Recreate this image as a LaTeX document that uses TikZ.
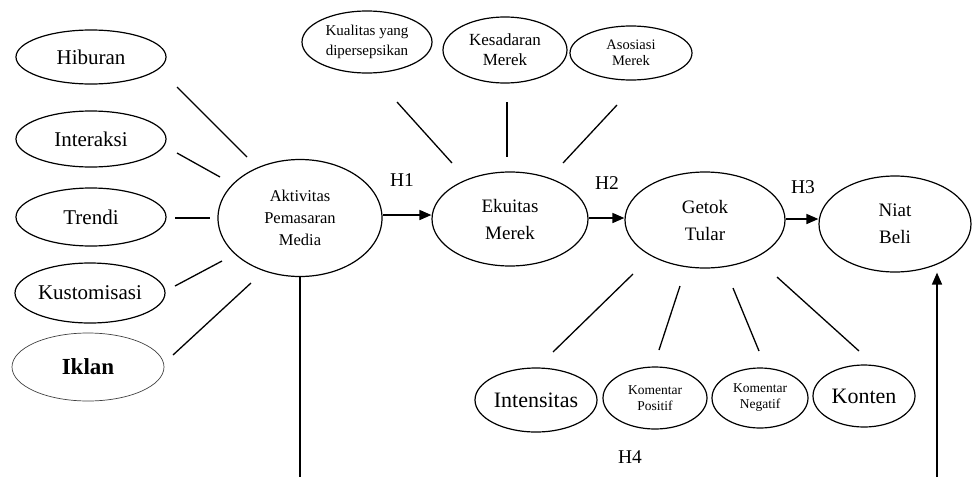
\documentclass[tikz,border=0pt]{standalone}
\usepackage{fontspec}
\setmainfont{Liberation Serif}
\usetikzlibrary{arrows.meta,shapes.geometric,calc}
\begin{document}
\begin{tikzpicture}[x=1pt,y=-1pt,
  ov/.style={draw, ellipse, inner sep=0pt, align=center, line width=1.2pt},
  ln/.style={line width=1.3pt},
  arr/.style={line width=1.6pt, -{Triangle[length=12pt,width=10pt]}},
  fbig/.style={font=\fontsize{21}{24}\selectfont},
  fbot/.style={font=\fontsize{22}{24}\selectfont},
  fmid/.style={font=\fontsize{19}{27}\selectfont},
  fakt/.style={font=\fontsize{16.5}{22}\selectfont},
  fkua/.style={font=\fontsize{15}{19.5}\selectfont},
  fkes/.style={font=\fontsize{17}{20}\selectfont},
  fsm/.style={font=\fontsize{14.5}{16}\selectfont},
  ftiny/.style={font=\fontsize{13.5}{16}\selectfont},
  hlab/.style={font=\fontsize{19.5}{22}\selectfont}]
\useasboundingbox (0,0) rectangle (972,477);

% left dimension nodes
\node[ov,fbig,minimum width=150pt,minimum height=54pt] (hib) at (91,57) {Hiburan};
\node[ov,fbig,minimum width=150pt,minimum height=56pt] (int) at (91,139) {Interaksi};
\node[ov,fbig,minimum width=150pt,minimum height=58pt] (tre) at (91,217) {Trendi};
\node[ov,fbig,minimum width=150pt,minimum height=60pt] (kus) at (90,293) {Kustomisasi};
\node[ov,line width=0.7pt,draw=black!75,font=\fontsize{23}{26}\selectfont\bfseries,minimum width=152pt,minimum height=68pt] (ikl) at (88,367) {Iklan};

% main chain
\node[ov,fakt,minimum width=164pt,minimum height=117pt] (akt) at (300,218) {Aktivitas\\Pemasaran\\Media};
\node[ov,fmid,minimum width=156pt,minimum height=94pt] (eku) at (510,219) {Ekuitas\\Merek};
\node[ov,fmid,minimum width=160pt,minimum height=96pt] (get) at (705,220) {Getok\\Tular};
\node[ov,fmid,minimum width=152pt,minimum height=96pt] (nia) at (895,224) {Niat\\Beli};

% top dimension nodes
\node[ov,fkua,minimum width=130pt,minimum height=62pt] (kua) at (367,42) {Kualitas yang\\dipersepsikan};
\node[ov,fkes,minimum width=124pt,minimum height=66pt] (kes) at (505,50) {Kesadaran\\Merek};
\node[ov,fsm,minimum width=122pt,minimum height=54pt] (aso) at (631,53) {Asosiasi\\Merek};

% bottom dimension nodes
\node[ov,fbot,minimum width=122pt,minimum height=64pt] (ints) at (536,400) {Intensitas};
\node[ov,ftiny,minimum width=104pt,minimum height=62pt] (kp) at (655,398) {Komentar\\Positif};
\node[ov,ftiny,minimum width=96pt,minimum height=60pt] (kn) at (760,398) {Komentar\\Negatif};
\node[ov,fbot,minimum width=102pt,minimum height=62pt] (kon) at (864,396) {Konten};

% hypothesis labels
\node[hlab] (h1) at (402,180) {H1};
\node[hlab] (h2) at (607,183) {H2};
\node[hlab] (h3) at (803,187) {H3};
\node[hlab] (h4) at (630,457) {H4};

% bottom free ends
\coordinate (aktbot) at (300,477);
\coordinate (niabot) at (937,477);

% left connectors
\draw[ln] ($(hib)+(86,30)$) -- ($(akt)+(-53,-61)$);
\draw[ln] ($(int)+(86,14)$) -- ($(akt)+(-80,-41)$);
\draw[ln] ($(tre)+(84,1)$) -- ($(akt)+(-90,0)$);
\draw[ln] ($(kus)+(85,-7)$) -- ($(akt)+(-78,43)$);
\draw[ln] ($(ikl)+(85,-12)$) -- ($(akt)+(-49,65)$);

% top connectors
\draw[ln] ($(kua)+(30,60)$) -- ($(eku)+(-58,-56)$);
\draw[ln] ($(kes)+(2,52)$) -- ($(eku)+(-3,-62)$);
\draw[ln] ($(aso)+(-14,52)$) -- ($(eku)+(53,-56)$);

% bottom connectors
\draw[ln] ($(get)+(-72,54)$) -- ($(ints)+(17,-48)$);
\draw[ln] ($(get)+(-25,66)$) -- ($(kp)+(4,-48)$);
\draw[ln] ($(get)+(28,68)$) -- ($(kn)+(-1,-47)$);
\draw[ln] ($(get)+(72,57)$) -- ($(kon)+(-5,-45)$);

% main arrows
\draw[arr] (akt.east |- 0,215) -- (eku.west |- 0,215);
\draw[arr] (eku.east |- 0,218) -- (get.west |- 0,218);
\draw[arr] (get.east |- 0,219) -- (nia.west |- 0,219);

% vertical lines
\draw[ln] (akt.south) -- (aktbot);
\draw[arr] (niabot) -- (niabot |- nia.south);
\end{tikzpicture}
\end{document}
